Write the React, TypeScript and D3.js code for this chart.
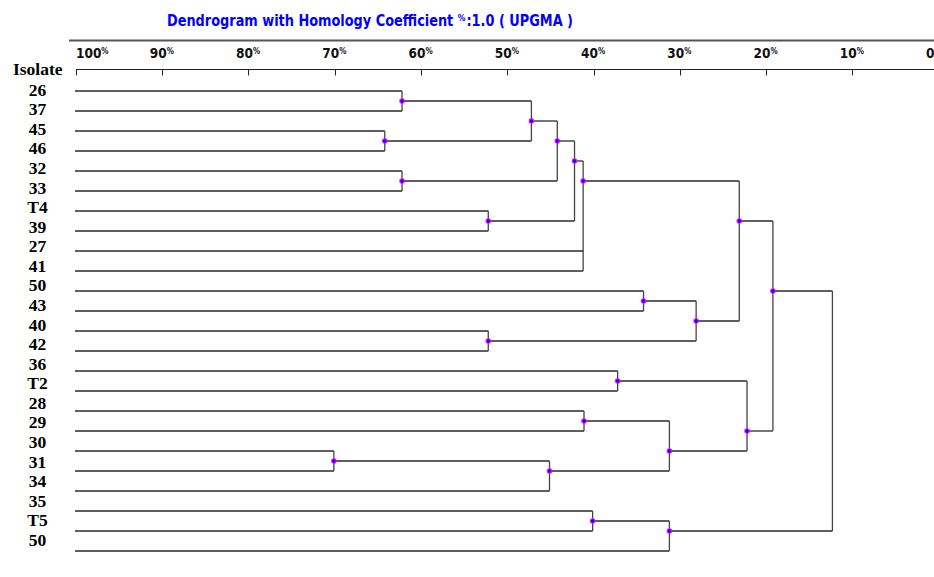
import { max, mean, min, scaleLinear, scalePoint, select } from 'd3'
import { useEffect, useRef } from 'react'

const isolates = ['26', '37', '45', '46', '32', '33', 'T4', '39', '27', '41', '50', '43', '40', '42', '36', 'T2', '28', '29', '30', '31', '34', '35', 'T5', '50']

// ids below 24 are isolates, id 24 + n is the n-th merge
const mergeChildren = [
  [0, 1], [2, 3], [24, 25], [4, 5], [26, 27], [6, 7], [28, 29], [30, 8, 9],
  [10, 11], [12, 13], [32, 33], [31, 34],
  [14, 15], [16, 17], [18, 19], [38, 20], [37, 39], [36, 40], [35, 41],
  [21, 22], [43, 23], [42, 44],
]
const mergeLevels = [62.2, 64.2, 47.2, 62.2, 44.2, 52.2, 42.2, 41.2, 34.2, 52.2, 28.1, 23.1, 37.2, 41.1, 70.1, 45.1, 31.2, 22.2, 19.2, 40.1, 31.2, 12.3]

const axisTicks = [100, 90, 80, 70, 60, 50, 40, 30, 20, 10, 0]

const W = 934
const H = 577

function drawDendrogram(el: SVGSVGElement) {
  const svg = select(el)
  svg.selectAll('*').remove()

  const x = scaleLinear().domain([100, 0]).range([76, 938.5])
  const idx = isolates.map((_, i) => i)
  const yLeaf = scalePoint<number>().domain(idx).range([91, 551])
  const yLabel = scalePoint<number>().domain(idx).range([95.7, 545.8])

  // title
  const title = svg
    .append('text')
    .attr('x', 167)
    .attr('y', 26)
    .attr('fill', '#0000ff')
    .attr('font-family', 'DejaVu Sans Condensed, DejaVu Sans, sans-serif')
    .attr('font-weight', 'bold')
    .attr('font-size', 15)
    .attr('textLength', 406)
    .attr('lengthAdjust', 'spacingAndGlyphs')
  title.append('tspan').text('Dendrogram with Homology Coefficient ')
  title.append('tspan').attr('font-size', 9).attr('dy', -5).text('%')
  title.append('tspan').attr('dy', 5).attr('dx', 1).text(':1.0 ( UPGMA )')

  // axis
  svg.append('line').attr('x1', 69).attr('x2', W).attr('y1', 40.5).attr('y2', 40.5).attr('stroke', '#555').attr('stroke-width', 2)
  svg.append('line').attr('x1', x(100)).attr('x2', W).attr('y1', 69.5).attr('y2', 69.5).attr('stroke', '#222').attr('stroke-width', 1)
  const tick = svg.append('g').selectAll('g').data(axisTicks).join('g')
  tick
    .append('line')
    .attr('x1', (d) => Math.round(x(d)) + 0.5)
    .attr('x2', (d) => Math.round(x(d)) + 0.5)
    .attr('y1', 69.5)
    .attr('y2', 75.5)
    .attr('stroke', '#222')
  const tickText = tick
    .append('text')
    .attr('x', (d) => (d === 100 ? x(d) : x(d) - 12.5))
    .attr('y', 58)
    .attr('font-family', 'DejaVu Sans Condensed, DejaVu Sans, sans-serif')
    .attr('font-weight', 'bold')
    .attr('font-size', 13.5)
    .attr('fill', '#111')
  tickText.append('tspan').text((d) => String(d))
  tickText.append('tspan').attr('font-size', 8).attr('dy', -4).text('%')

  // isolate labels
  const serif = 'Liberation Serif, Times New Roman, serif'
  svg
    .append('text')
    .attr('x', 37.7)
    .attr('y', 75)
    .attr('text-anchor', 'middle')
    .attr('font-family', serif)
    .attr('font-weight', 'bold')
    .attr('font-size', 17.5)
    .text('Isolate')
  svg
    .append('g')
    .selectAll('text')
    .data(idx)
    .join('text')
    .attr('x', 37.5)
    .attr('y', (i) => yLabel(i) ?? 0)
    .attr('text-anchor', 'middle')
    .attr('font-family', serif)
    .attr('font-weight', 'bold')
    .attr('font-size', 17.5)
    .text((i) => isolates[i])

  // node layout
  type Node = { x: number; y: number; leaves: number[] }
  const nodes: Node[] = idx.map((i) => ({ x: x(100) - 1, y: yLeaf(i) ?? 0, leaves: [i] }))
  mergeChildren.forEach((kids, n) => {
    const leaves = kids.flatMap((k) => nodes[k].leaves)
    nodes.push({ x: x(mergeLevels[n]), y: mean(leaves, (l) => yLeaf(l) ?? 0) ?? 0, leaves })
  })

  const links = svg.append('g').attr('stroke', '#2a2a2a').attr('stroke-width', 1.3).attr('fill', 'none')
  mergeChildren.forEach((kids, n) => {
    const node = nodes[isolates.length + n]
    kids.forEach((k) => {
      const c = nodes[k]
      links.append('line').attr('x1', c.x).attr('x2', node.x).attr('y1', c.y).attr('y2', c.y)
    })
    const ys = kids.map((k) => nodes[k].y)
    links
      .append('line')
      .attr('x1', node.x)
      .attr('x2', node.x)
      .attr('y1', min(ys) ?? 0)
      .attr('y2', max(ys) ?? 0)
      .attr('stroke', '#444')
  })

  // node markers, none on the root
  svg
    .append('g')
    .selectAll('circle')
    .data(nodes.slice(isolates.length, nodes.length - 1))
    .join('circle')
    .attr('cx', (d) => d.x)
    .attr('cy', (d) => d.y)
    .attr('r', 2.2)
    .attr('fill', '#0000ff')
    .attr('stroke', '#ff00ff')
    .attr('stroke-width', 1.1)
}

export default function App() {
  const ref = useRef<SVGSVGElement>(null)

  useEffect(() => {
    if (ref.current) drawDendrogram(ref.current)
  }, [])

  return (
    <svg
      ref={ref}
      width={W}
      height={H}
      style={{ position: 'absolute', left: 0, top: 0, background: '#fff', display: 'block' }}
    />
  )
}
